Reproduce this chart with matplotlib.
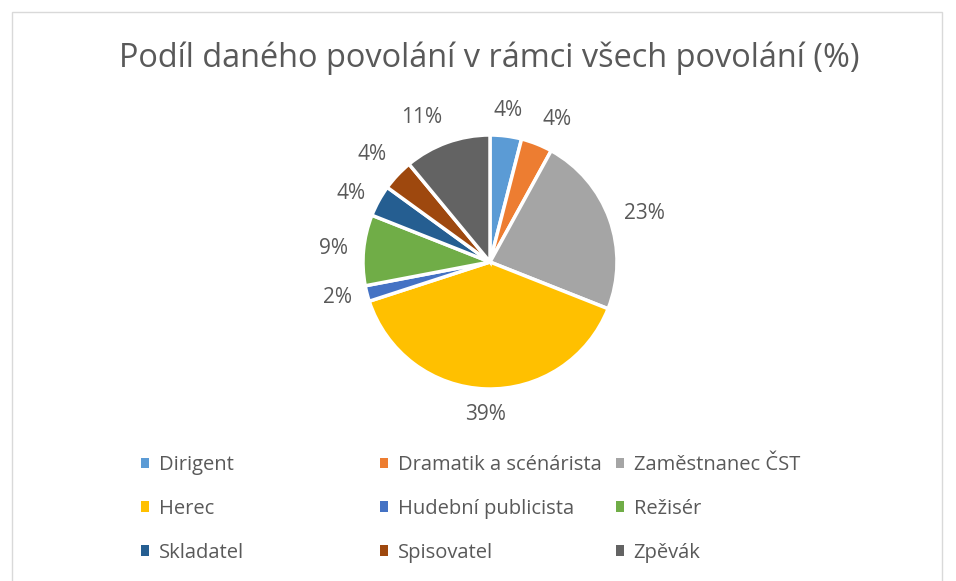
import matplotlib
matplotlib.use("Agg")
import matplotlib.pyplot as plt
import numpy as np
from matplotlib.patches import Rectangle

# data (percent of all occupations)
labels = ["Dirigent", "Dramatik a scénárista", "Zaměstnanec ČST",
          "Herec", "Hudební publicista", "Režisér",
          "Skladatel", "Spisovatel", "Zpěvák"]
values = [4, 4, 23, 39, 2, 9, 4, 4, 11]
colors = ["#5B9BD5", "#ED7D31", "#A5A5A5",
          "#FFC000", "#4472C4", "#70AD47",
          "#255E91", "#9E480E", "#636363"]

text_color = "#595959"
plt.rcParams['font.family'] = ['Open Sans', 'DejaVu Sans']

W, H = 956, 581
fig = plt.figure(figsize=(W / 100, H / 100), dpi=100)

# chart frame
fig.add_artist(Rectangle((12 / W, -0.01), (942 - 12) / W, (H - 12) / H + 0.01,
                         transform=fig.transFigure, fill=False,
                         edgecolor="#D9D9D9", linewidth=1))

fig.text(489 / W, 1 - 58 / H, "Podíl daného povolání v rámci všech povolání (%)",
         ha="center", va="center", fontsize=23.4, color=text_color)

# pie axes: centre (490, 262), radius 127 px
cx, cy, r = 490, 262, 127
ax = fig.add_axes([(cx - r) / W, (H - cy - r) / H, 2 * r / W, 2 * r / H])
wedges, texts, autotexts = ax.pie(
    values, colors=colors, startangle=90, counterclock=False,
    autopct="%1.0f%%",
    wedgeprops=dict(edgecolor="white", linewidth=2.5),
    textprops=dict(color=text_color, fontsize=15))

# place percentage labels just outside the rim, anchored by direction
for w, t in zip(wedges, autotexts):
    ang = np.deg2rad((w.theta1 + w.theta2) / 2)
    c, s = np.cos(ang), np.sin(ang)
    t.set_position((1.12 * c, 1.12 * s))
    t.set_ha("left" if c > 0.3 else "right" if c < -0.3 else "center")
    t.set_va("bottom" if s > 0.6 else "top" if s < -0.6 else "center")

ax.set_xlim(-1, 1)
ax.set_ylim(-1, 1)
ax.set_aspect("equal")
ax.axis("off")

# legend in three equal columns (Excel style, row-wise order)
col_x = [141, 380, 616]
for j in range(3):
    leg = fig.legend(wedges[j::3], labels[j::3], loc="upper left",
                     bbox_to_anchor=(col_x[j] / W, 1 - 455 / H),
                     frameon=False, fontsize=14.5, labelcolor=text_color,
                     handlelength=0.42, handleheight=0.42, handletextpad=0.45,
                     labelspacing=1.18, borderpad=0, borderaxespad=0)
    for h in leg.legend_handles:
        h.set_edgecolor("none")

fig.savefig("out.png", dpi=100)
